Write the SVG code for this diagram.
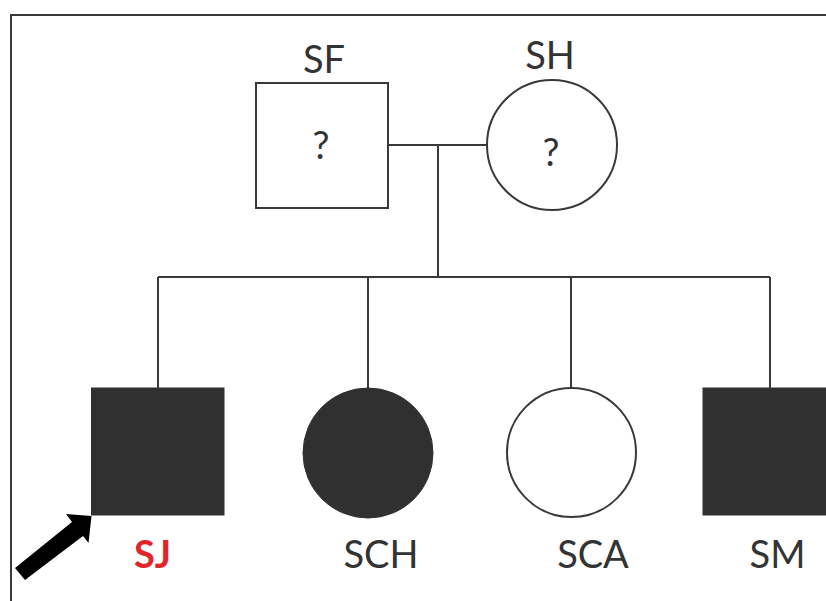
<svg xmlns="http://www.w3.org/2000/svg" width="826" height="601" viewBox="0 0 826 601">
<style>
.ln{stroke:#393939;stroke-width:2;fill:none}
.open{stroke:#393939;stroke-width:2;fill:#ffffff}
.aff{fill:#303030;stroke:#303030;stroke-width:1}
.lbl{font-family:Lato,"Open Sans","Liberation Sans",sans-serif;font-size:38px;fill:#333333;text-anchor:middle}
.red{fill:#e0252b;font-weight:bold}
</style>
<rect width="826" height="601" fill="#ffffff"/>
<path class="ln" d="M11,601 V15 H826"/>
<g id="connectors">
<path class="ln" d="M388,145 H487"/>
<path class="ln" d="M438,145 V277"/>
<path class="ln" d="M158,277 H770"/>
<path class="ln" d="M158,277 V388"/>
<path class="ln" d="M368,277 V388"/>
<path class="ln" d="M571,277 V388"/>
<path class="ln" d="M770,277 V388"/>
</g>
<g id="SF">
<rect class="open" x="256" y="83" width="132" height="125"/>
<text class="lbl" x="324" y="73">SF</text>
<text class="lbl" x="321" y="159">?</text>
</g>
<g id="SH">
<circle class="open" cx="552" cy="145" r="65"/>
<text class="lbl" x="550" y="69">SH</text>
<text class="lbl" x="551" y="166">?</text>
</g>
<g id="SJ">
<rect class="aff" x="91.5" y="388" width="132.5" height="127"/>
<text class="lbl red" x="152.5" y="568">SJ</text>
</g>
<g id="SCH">
<circle class="aff" cx="368" cy="453" r="65"/>
<text class="lbl" x="381" y="568">SCH</text>
</g>
<g id="SCA">
<circle class="open" cx="571.5" cy="452.5" r="64.5"/>
<text class="lbl" x="593" y="568">SCA</text>
</g>
<g id="SM">
<rect class="aff" x="703" y="388" width="130" height="127"/>
<text class="lbl" x="777.5" y="568">SM</text>
</g>
<g id="arrow">
<polygon points="15,568 72,522 66,514 91.5,516 88.5,543 83,536 25,580" fill="#000000"/>
</g>
</svg>
